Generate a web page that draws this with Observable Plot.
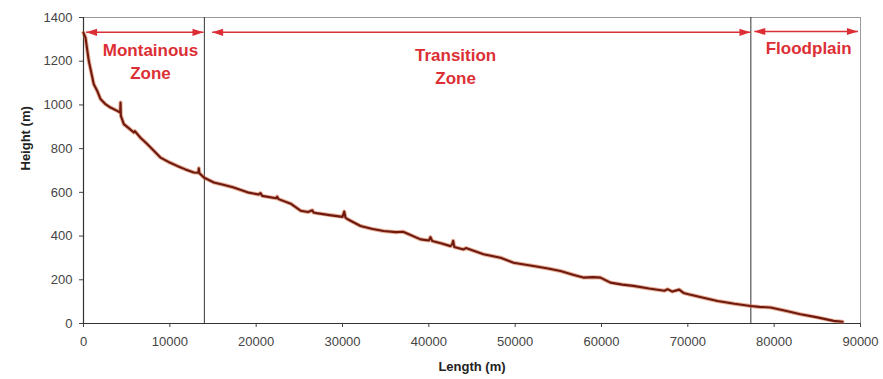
<!DOCTYPE html>
<html>
<head>
<meta charset="utf-8">
<script src="https://cdn.jsdelivr.net/npm/d3@7"></script>
<script src="https://cdn.jsdelivr.net/npm/@observablehq/plot@0.6"></script>
<style>
  html, body { margin: 0; padding: 0; background: #fff; }
  #chart { width: 883px; height: 379px; }
</style>
</head>
<body>
<div id="chart"></div>
<script>
// River longitudinal profile
const lengthM = [0, 230, 610, 1190, 1580, 1970, 2500, 3130, 3900, 4250, 4290, 4330, 4670, 5200, 5830, 5950, 6600, 7380, 8150, 8920, 9900, 10850, 11800, 12780, 13300, 13360, 13420, 13940, 15100, 16200, 17410, 19000, 20300, 20500, 20700, 22300, 22430, 22600, 24000, 25140, 26000, 26500, 26640, 27000, 28500, 30000, 30200, 30350, 30550, 32090, 33500, 34750, 36200, 37000, 37300, 39040, 40000, 40190, 40400, 41500, 42510, 42700, 42820, 42950, 44020, 44300, 46330, 48300, 49810, 52120, 53800, 55250, 56800, 57910, 59000, 59880, 61040, 62400, 63710, 65500, 67300, 67650, 68200, 69000, 69500, 70080, 71800, 73440, 75400, 77260, 78300, 79580, 81300, 83050, 85000, 86880, 87920];
const heightM = [1330, 1308, 1202, 1095, 1065, 1027, 1005, 988, 973, 965, 1011, 950, 912, 895, 874, 880, 850, 821, 790, 759, 738, 721, 705, 691, 690, 710, 688, 668, 645, 635, 622, 600, 590, 597, 584, 573, 580, 569, 548, 516, 510, 518, 508, 505, 496, 488, 512, 484, 478, 446, 432, 423, 418, 420, 415, 385, 380, 395, 377, 366, 354, 362, 378, 350, 339, 345, 317, 301, 278, 263, 252, 240, 222, 210, 212, 210, 187, 178, 172, 160, 150, 157, 146, 155, 140, 134, 118, 103, 90, 80, 76, 73, 58, 42, 28, 12, 8];

// Zones
const zoneNames = ["Montainous\nZone", "Transition\nZone", "Floodplain"];
const zoneBoundaries = [14000, 77300];
const arrowFrom = [300, 14900, 77700];
const arrowTo = [13900, 77250, 89700];
const arrowHeight = [1332, 1332, 1336];
const zoneLabelX = [7760, 43100, 84000];
const zoneLabelY = [1300, 1275, 1308];

// Axes
const xTicks = [0, 10000, 20000, 30000, 40000, 50000, 60000, 70000, 80000, 90000];
const yTicks = [0, 200, 400, 600, 800, 1000, 1200, 1400];
const xLabel = "Length (m)";
const yLabel = "Height (m)";

const profile = lengthM.map((x, i) => ({x, y: heightM[i]}));
const arrows = zoneNames.map((z, i) => ({from: arrowFrom[i], to: arrowTo[i], y: arrowHeight[i]}));
const labels = zoneNames.map((z, i) => ({name: z, x: zoneLabelX[i], y: zoneLabelY[i]}));

const red = "#dc2f35";
const headRight = {
  draw(context) {
    context.moveTo(0, 0);
    context.lineTo(-11, -3.6);
    context.lineTo(-11, 3.6);
    context.closePath();
  }
};
const headLeft = {
  draw(context) {
    context.moveTo(0, 0);
    context.lineTo(11, -3.6);
    context.lineTo(11, 3.6);
    context.closePath();
  }
};

const chart = Plot.plot({
  width: 883,
  height: 379,
  marginLeft: 83,
  marginRight: 23,
  marginTop: 17,
  marginBottom: 56,
  style: {fontFamily: "Arial, 'Liberation Sans', sans-serif", fontSize: "13px", color: "#333", background: "#fff"},
  x: {domain: [0, 90000]},
  y: {domain: [0, 1400]},
  marks: [
    Plot.frame({stroke: "#9a9a9a"}),
    Plot.axisX({ticks: xTicks, tickSize: 4, tickPadding: 9, tickFormat: d3.format("d"), label: null, stroke: "#444", color: "#444"}),
    Plot.axisY({ticks: yTicks, tickSize: 4, tickPadding: 7, tickFormat: d3.format("d"), label: null, stroke: "#444", color: "#444"}),
    Plot.ruleY([0], {stroke: "#333", strokeWidth: 1.2}),
    Plot.ruleX([0], {stroke: "#333", strokeWidth: 1.2}),
    Plot.ruleX(zoneBoundaries, {y1: 0, y2: 1400, stroke: "#333", strokeWidth: 1}),
    Plot.line(profile, {x: "x", y: "y", stroke: "#d0602e", strokeWidth: 4, strokeOpacity: 0.5}),
    Plot.line(profile, {x: "x", y: "y", stroke: "#6e1a10", strokeWidth: 2.1}),
    Plot.link(arrows, {x1: "from", x2: "to", y1: "y", y2: "y", stroke: red, strokeWidth: 1.5}),
    Plot.dot(arrows, {x: "to", y: "y", symbol: headRight, fill: red, stroke: "none", r: 4}),
    Plot.dot(arrows, {x: "from", y: "y", symbol: headLeft, fill: red, stroke: "none", r: 4}),
    Plot.text(labels, {x: "x", y: "y", text: "name", fill: red, fontWeight: "bold", fontSize: 17, lineAnchor: "top", lineHeight: 1.35}),
    Plot.text([xLabel], {frameAnchor: "bottom", dy: 47, fontWeight: "bold", fontSize: 13, fill: "#222"}),
    Plot.text([yLabel], {frameAnchor: "left", dx: -58, rotate: -90, fontWeight: "bold", fontSize: 13, fill: "#222"})
  ]
});
document.getElementById("chart").appendChild(chart);
</script>
</body>
</html>
